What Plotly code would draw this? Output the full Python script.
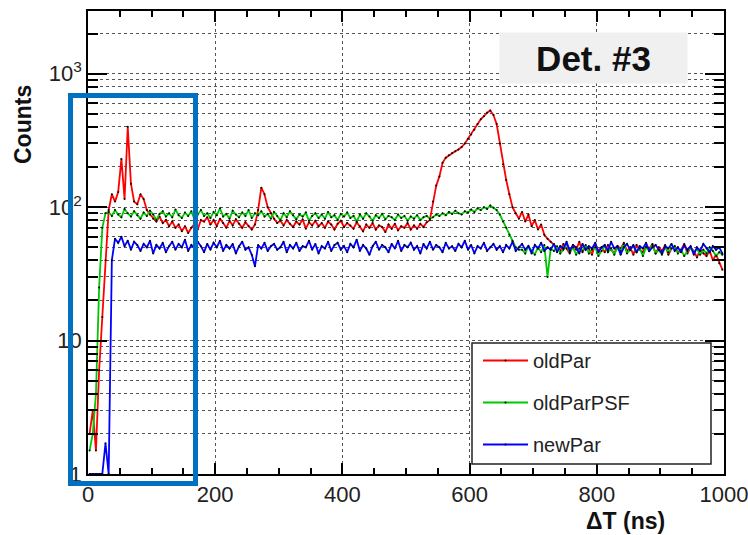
import plotly.graph_objects as go

# 5 ns bins from 0 to 1000 ns (bin start values)
bin_width = 5
old_par = [
    2, 3, 1.5, 6, 15, 40, 95, 125, 110, 130,
    230, 115, 400, 150, 110, 105, 125, 115, 95, 88,
    82, 78, 85, 76, 80, 72, 78, 70, 74, 66, 72, 64, 70, 75, 68, 80,
    78, 84, 74, 80, 72, 82, 76, 70, 79, 73, 81, 75, 70, 77, 72, 68, 74, 95,
    140, 125, 100, 90,
    82, 76, 79, 73, 80, 75, 71, 78, 74, 81,
    69, 77, 73, 79, 72, 76, 70, 78, 74, 68,
    75, 79, 71, 76, 73, 69, 77, 72, 66, 74,
    70, 76, 68, 73, 71, 65, 74, 69, 75, 67,
    72, 70, 76, 68, 73, 69, 75, 71, 77, 80,
    110, 145, 170, 215, 235, 245, 255, 262, 270, 282,
    300, 325, 350, 380, 420, 455, 480, 510, 530, 490,
    420, 300, 210, 160, 125, 100, 90, 82, 92, 78,
    88, 72, 80, 68, 74, 62, 58, 55, 52,
    50, 47, 53, 49, 45, 52, 48, 55, 46, 51,
    49, 44, 53, 47, 50, 46, 52, 48, 45, 51,
    49, 54, 47, 50, 44, 52, 48, 46, 51, 49,
    53, 45, 50, 47, 52, 44, 49, 51, 46, 48,
    53, 45, 50, 47, 42, 48, 45, 43, 47, 40,
    44, 38, 34,
]
old_par_psf = [
    1.5, 2, 4, 25, 70, 90,
    92, 86, 95, 88, 84, 97, 90, 85, 93, 87,
    82, 91, 86, 94, 88, 80, 89, 93, 85, 90,
    84, 96, 87, 83, 91, 86, 93, 81, 88, 95,
    86, 90, 83, 92, 87, 98, 85, 89, 82, 94,
    88, 84, 91, 86, 95, 83, 90, 87, 93, 85,
    89, 82, 92, 86, 80, 90, 84, 93, 87, 81,
    88, 85, 91, 79, 86, 90, 83, 88, 82, 92,
    84, 87, 80, 89, 85, 91, 83, 86, 78, 88,
    82, 90, 85, 79, 87, 83, 89, 81, 86, 84,
    80, 88, 83, 86, 79, 85, 82, 87, 80, 84,
    86, 82,
    84, 88, 86, 90, 87, 92, 89, 94, 90, 88,
    93, 91, 96, 92, 98, 95, 100, 97, 103, 99,
    95, 88, 78, 70, 62, 56, 50, 48,
    48, 45, 51, 47, 44, 50, 46, 52, 30, 49,
    47, 51, 45, 48, 53, 46, 50, 44, 49, 47,
    52, 45, 48, 50, 43, 47, 51, 46, 49, 44,
    50, 47, 53, 45, 48, 51, 46, 49, 43, 50,
    47, 52, 45, 48, 44, 50, 46, 49, 51, 45,
    48, 43, 47, 50, 46, 49, 44, 48, 45, 50,
    47, 43, 46, 44,
]
new_par = [
    1, 1, 1, 1, 1, 1.7, 1, 40,
    58, 54, 60, 51, 56, 48, 55, 52, 47, 53,
    50, 56, 45, 52, 49, 54, 46, 51, 55, 48,
    53, 50, 57, 47, 52, 49, 55, 51, 46, 53,
    48, 54, 50, 56, 47, 52, 49, 53, 45, 51,
    55, 48, 50, 44, 36, 52, 49, 54, 47, 51,
    53, 48, 50, 55, 46, 52, 49, 54, 47, 51,
    50, 56, 48, 53, 45, 51, 49, 55, 47, 52,
    54, 48, 51, 46, 53, 50, 57, 47, 52, 49,
    44, 51, 55, 48, 52, 50, 46, 53, 49, 56,
    47, 52, 50, 54, 48, 51, 45, 53, 49, 55,
    48, 52, 50, 46, 54, 49, 51, 47, 53, 50,
    56, 48, 52, 45, 51, 49, 54, 47, 50, 53,
    48, 51, 46, 52, 49, 55, 47, 50, 53, 48,
    51, 45, 52, 49, 54, 47, 50, 48, 53, 46,
    51, 49, 55, 47, 52, 50, 45, 53, 48, 51,
    49, 54, 46, 50, 52, 47, 55, 49, 51, 44,
    50, 53, 48, 52, 46, 51, 49, 54, 47, 50,
    52, 48, 45, 51, 49, 53, 47, 50, 46, 52,
    48, 51, 44, 50, 47, 53, 49, 46, 51, 48,
    50, 45,
]

series_names = ["oldPar", "oldParPSF", "newPar"]
series_values = [old_par, old_par_psf, new_par]
series_colors = ["#ff0000", "#00c800", "#0000ff"]

x_tick_vals = [0, 200, 400, 600, 800, 1000]
y_tick_vals = [1, 10, 100, 1000]
y_tick_text = ["1", "10", "10<sup>2</sup>", "10<sup>3</sup>"]
y_minor_vals = [m * d for d in (1, 10, 100, 1000) for m in range(2, 10)]

FONT = "Liberation Sans, Arial, Helvetica, sans-serif"

fig = go.Figure()
for name, vals, col in zip(series_names, series_values, series_colors):
    xs = [i * bin_width + bin_width / 2 for i in range(len(vals))]
    fig.add_trace(go.Scatter(
        x=xs, y=vals, name=name, mode="lines+markers",
        line=dict(color=col, width=1.8),
        marker=dict(color="black", size=2),
        legendgroup=name,
    ))

fig.update_layout(
    width=748, height=535,
    margin=dict(l=88, r=24, t=11, b=61),
    paper_bgcolor="white", plot_bgcolor="white",
    font=dict(family=FONT, color="#111"),
    showlegend=True,
    legend=dict(
        x=(478 - 88) / 636, y=(474 - 341) / 463, xanchor="left", yanchor="top",
        bgcolor="rgba(0,0,0,0)", font=dict(size=20, color="#222", family=FONT),
        tracegroupgap=13, itemwidth=45,
    ),
)

fig.update_xaxes(
    range=[0, 1000], tickvals=x_tick_vals, ticks="inside", ticklen=11,
    tickcolor="black", tickwidth=1.5, automargin=False, ticklabeloverflow="allow",
    showline=True, linecolor="black", linewidth=1.5, mirror="ticks",
    showgrid=True, gridcolor="#555", griddash="dot", gridwidth=1,
    zeroline=False,
    tickfont=dict(size=22, color="#222", family=FONT),
    minor=dict(dtick=50, ticks="inside", ticklen=6, tickcolor="black", showgrid=False),
)
fig.update_yaxes(
    type="log", range=[0, 3.47], tickvals=y_tick_vals, ticktext=y_tick_text,
    ticks="inside", ticklen=19, tickcolor="black", tickwidth=1.5, automargin=False,
    ticklabeloverflow="allow",
    showline=True, linecolor="black", linewidth=1.5, mirror="ticks",
    showgrid=True, gridcolor="#555", griddash="dot", gridwidth=1,
    zeroline=False,
    tickfont=dict(size=22, color="#222", family=FONT),
    minor=dict(tickvals=y_minor_vals, ticks="inside", ticklen=10, tickcolor="black",
               showgrid=True, gridcolor="#555", griddash="dot", gridwidth=1),
)

# legend frame (white box behind the legend)
fig.add_shape(type="rect", xref="paper", yref="paper",
              x0=(472 - 88) / 636, x1=(711 - 88) / 636,
              y0=(474 - 464) / 463, y1=(474 - 343) / 463,
              line=dict(color="#222", width=1.5), fillcolor="white", layer="above")

# highlight frame
fig.add_shape(type="rect", xref="paper", yref="paper",
              x0=(70.5 - 88) / 636, x1=(195.5 - 88) / 636,
              y0=(474 - 483.5) / 463, y1=(474 - 95.5) / 463,
              line=dict(color="#0070c0", width=5), layer="above")

# title box
fig.add_annotation(text="<b>Det. #3</b>", xref="paper", yref="paper",
                   x=(593.5 - 88) / 636, y=(474 - 58) / 463,
                   xanchor="center", yanchor="middle", showarrow=False,
                   width=187, height=50, bgcolor="#f0f0f0", borderpad=0,
                   font=dict(size=35, color="#111", family=FONT))

# axis titles
fig.add_annotation(text="<b>Counts</b>", xref="paper", yref="paper",
                   x=(23 - 88) / 636, y=(474 - 125) / 463, textangle=-90,
                   xanchor="center", yanchor="middle", showarrow=False,
                   font=dict(size=23, color="#111", family=FONT))
fig.add_annotation(text="<b>ΔT (ns)</b>", xref="paper", yref="paper",
                   x=(667 - 88) / 636, y=(474 - 521) / 463,
                   xanchor="right", yanchor="middle", showarrow=False,
                   font=dict(size=23, color="#111", family=FONT))

fig.write_html(
    "out.html",
    config={"displayModeBar": False},
    post_script="document.body.style.margin='0';document.body.style.padding='0';",
)
